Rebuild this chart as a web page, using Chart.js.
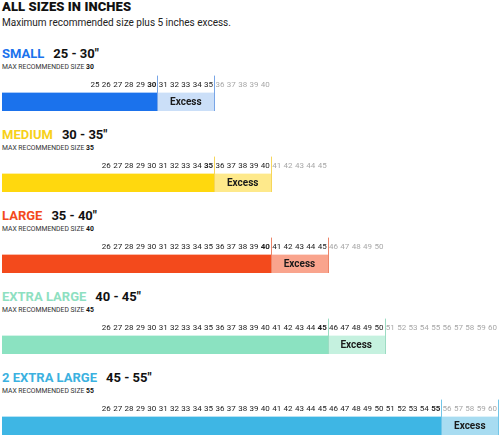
<!DOCTYPE html>
<html>
<head>
<meta charset="utf-8">
<script src="https://cdn.jsdelivr.net/npm/chart.js@4.4.0/dist/chart.umd.min.js"></script>
<style>
body { margin: 0; width: 500px; height: 436px; overflow: hidden; background: #fff; position: relative; font-family: Roboto, "Noto Sans", sans-serif; color: #111; }
.head { position: absolute; left: 2px; top: 0; margin: 0; font-size: 13px; font-weight: 900; line-height: 14px; letter-spacing: 0.1px; }
.sub { position: absolute; left: 2px; top: 16px; font-size: 10px; line-height: 14px; color: #222; }
.title { position: absolute; left: 2px; font-size: 13px; font-weight: bold; line-height: 18px; white-space: nowrap; }
.title .range { color: #111; margin-left: 9px; }
.maxline { position: absolute; left: 2px; font-size: 6.8px; line-height: 8px; color: #333; white-space: nowrap; }
.maxline b { color: #111; }
.chartbox { position: absolute; left: 0; width: 500px; height: 41px; }
</style>
</head>
<body>
<div class="head">ALL SIZES IN INCHES</div>
<div class="sub">Maximum recommended size plus 5 inches excess.</div>

<script>
// Datos de las tallas
const sizes = ['SMALL', 'MEDIUM', 'LARGE', 'EXTRA LARGE', '2 EXTRA LARGE'];
const rangeLow = [25, 30, 35, 40, 45];
const maxSize = [30, 35, 40, 45, 55];
const excessInches = 5;
// numeros de la regla de cada talla
const tickStart = [25, 26, 26, 26, 26];
const tickEnd = [40, 45, 50, 60, 60];
const darkUntil = [35, 40, 45, 50, 55];

// colores
const mainColors = ['#1b72ec', '#ffd80e', '#f34a1c', '#8be2c1', '#3eb6e4'];
const excessColors = ['#cbdff8', '#fee98b', '#f9a48d', '#c5f1df', '#a8dcf1'];
const lineColors = ['#78a5e6', '#f6d65a', '#ec8468', '#9cdcc3', '#72c6e8'];
const titleColors = ['#1b72ec', '#f7d11a', '#f34a1c', '#8ee0c1', '#3bb1e0'];

const axisMin = 16.81;
const axisMax = 60.66;

// plugin: lineas divisorias y texto "Excess"
const extrasPlugin = {
    id: 'extras',
    afterDatasetsDraw(chart, args, opts) {
        const ctx = chart.ctx;
        const x = chart.scales.x;
        const area = chart.chartArea;
        ctx.save();
        ctx.strokeStyle = opts.lineColor;
        ctx.lineWidth = 1;
        [opts.max + 0.5, opts.max + 0.5 + excessInches].forEach(v => {
            const px = Math.round(x.getPixelForValue(v)) + 0.5;
            ctx.beginPath();
            ctx.moveTo(px, area.top - 17);
            ctx.lineTo(px, area.bottom);
            ctx.stroke();
        });
        const el = chart.getDatasetMeta(1).data[0];
        ctx.fillStyle = '#1a1a1a';
        ctx.font = 'bold 10px Roboto, sans-serif';
        ctx.textAlign = 'center';
        ctx.textBaseline = 'middle';
        ctx.fillText('Excess', (el.x + el.base) / 2, el.y + 0.5);
        ctx.restore();
    }
};

sizes.forEach((name, i) => {
    const barTop = 90 + i * 81;

    const title = document.createElement('div');
    title.className = 'title';
    title.style.top = (barTop - 45) + 'px';
    title.innerHTML = `<span style="color:${titleColors[i]}">${name}</span><span class="range">${rangeLow[i]} - ${maxSize[i]}″</span>`;
    document.body.appendChild(title);

    const maxLine = document.createElement('div');
    maxLine.className = 'maxline';
    maxLine.style.top = (barTop - 27) + 'px';
    maxLine.innerHTML = `MAX RECOMMENDED SIZE <b>${maxSize[i]}</b>`;
    document.body.appendChild(maxLine);

    const box = document.createElement('div');
    box.className = 'chartbox';
    box.style.top = (barTop - 20) + 'px';
    const canvas = document.createElement('canvas');
    canvas.width = 500;
    canvas.height = 41;
    box.appendChild(canvas);
    document.body.appendChild(box);

    const tickValues = [];
    for (let v = tickStart[i]; v <= tickEnd[i]; v++) tickValues.push(v);

    new Chart(canvas.getContext('2d'), {
        type: 'bar',
        data: {
            labels: [name],
            datasets: [{
                data: [[axisMin, maxSize[i] + 0.5]],
                backgroundColor: mainColors[i],
                grouped: false,
                barPercentage: 1,
                categoryPercentage: 1
            }, {
                data: [[maxSize[i] + 0.5, maxSize[i] + 0.5 + excessInches]],
                backgroundColor: excessColors[i],
                grouped: false,
                barPercentage: 1,
                categoryPercentage: 1
            }]
        },
        options: {
            indexAxis: 'y',
            responsive: false,
            animation: false,
            devicePixelRatio: 1,
            layout: { padding: { top: 7, left: 2, right: 0, bottom: 0 } },
            plugins: {
                legend: { display: false },
                tooltip: { enabled: false },
                extras: { max: maxSize[i], lineColor: lineColors[i] }
            },
            scales: {
                x: {
                    type: 'linear',
                    position: 'top',
                    min: axisMin,
                    max: axisMax,
                    grid: { display: false, drawTicks: false },
                    border: { display: false },
                    afterBuildTicks: s => { s.ticks = tickValues.map(v => ({ value: v })); },
                    ticks: {
                        autoSkip: false,
                        maxRotation: 0,
                        minRotation: 0,
                        padding: 3,
                        color: c => (c.tick && c.tick.value > darkUntil[i]) ? '#a8a8a8' : '#222',
                        font: c => ({
                            family: 'Roboto, sans-serif',
                            size: 8,
                            weight: (c.tick && c.tick.value === maxSize[i]) ? 'bold' : 'normal'
                        }),
                        callback: v => v
                    }
                },
                y: { display: false }
            }
        },
        plugins: [extrasPlugin]
    });
});
</script>
</body>
</html>
